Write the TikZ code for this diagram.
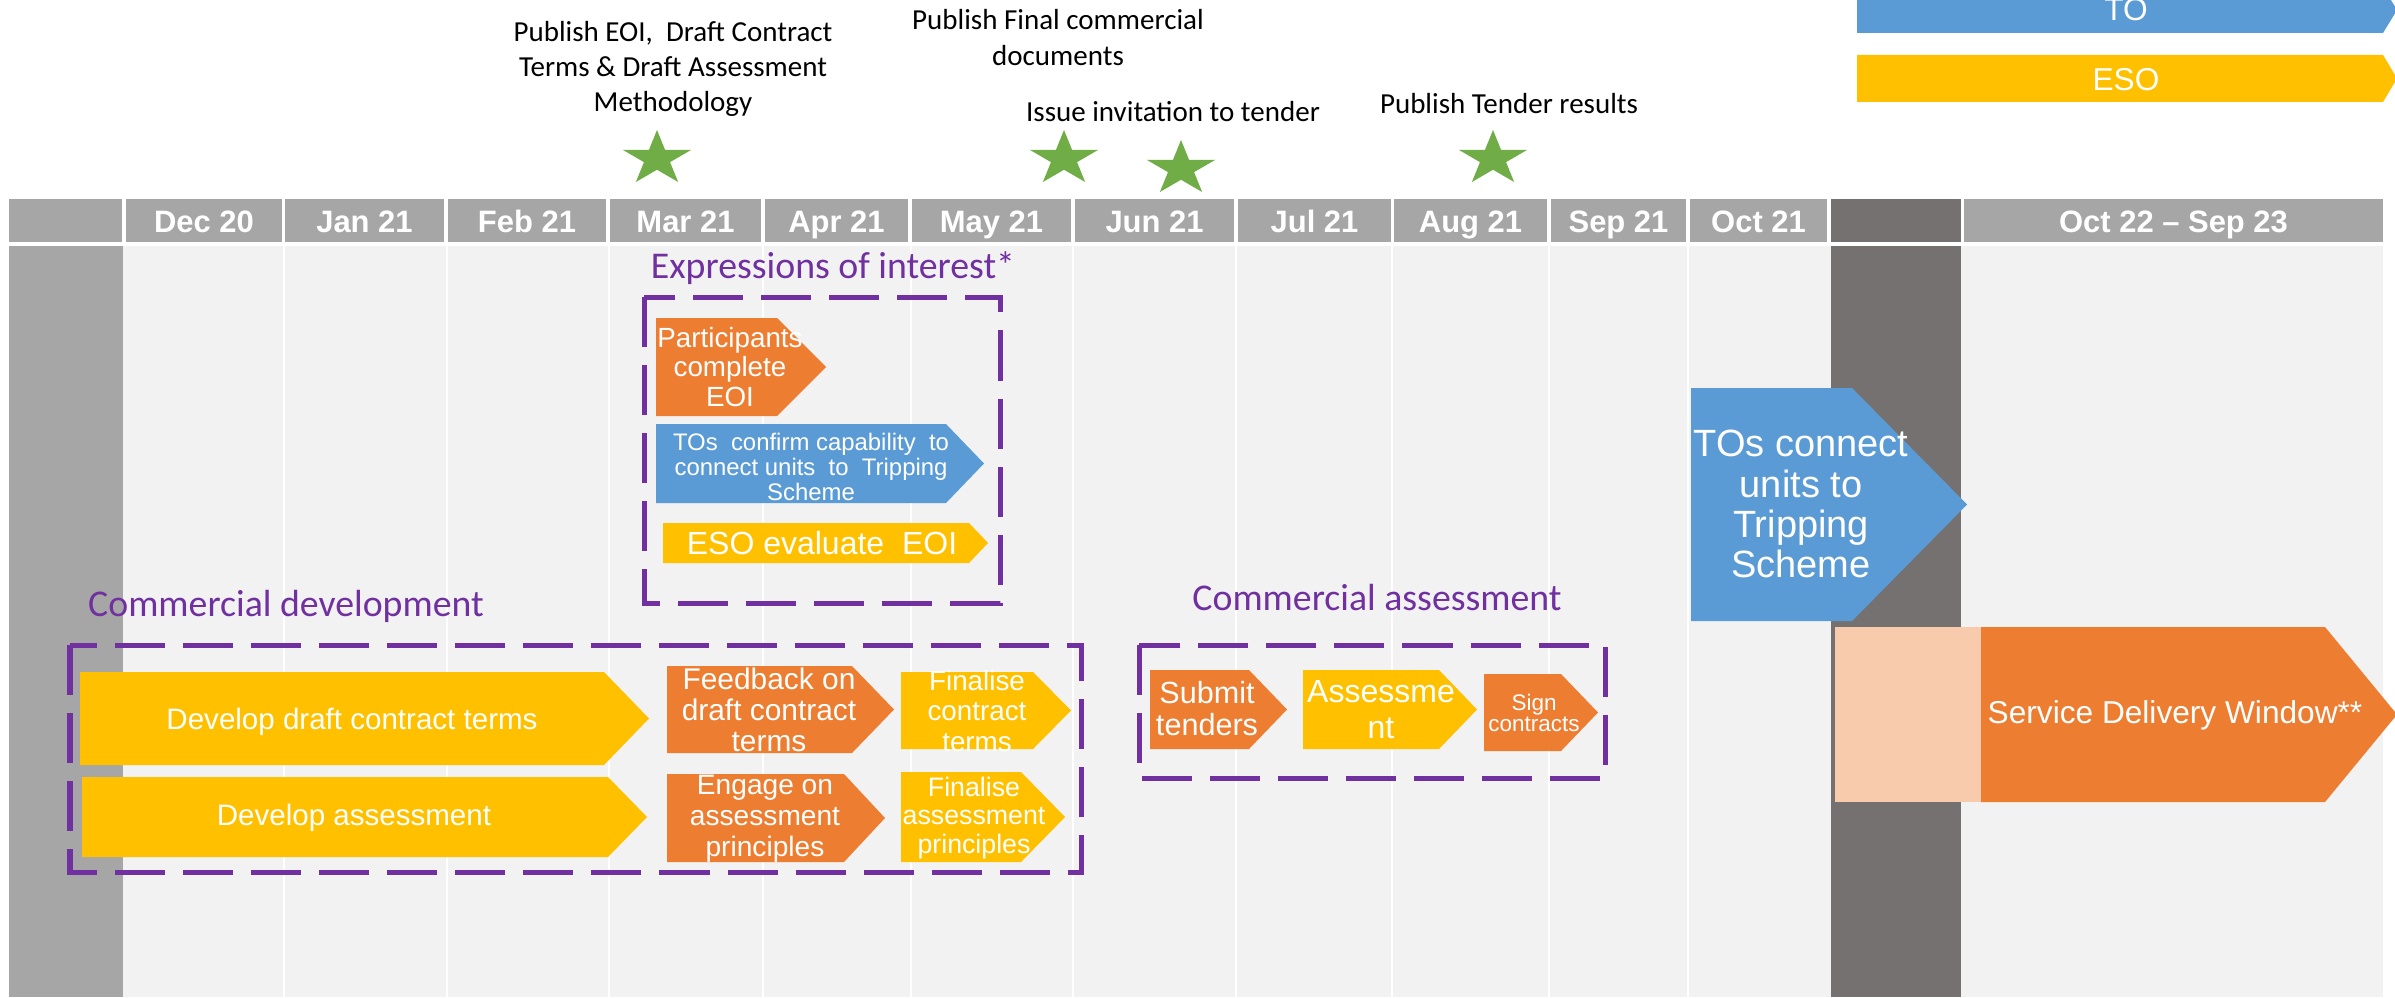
\documentclass[tikz,border=0pt]{standalone}
\usepackage{fontspec}
\setmainfont{Liberation Sans}
\newfontfamily\calfont{Carlito}
\usetikzlibrary{calc}
\definecolor{cOr}{HTML}{ED7D31}
\definecolor{cBl}{HTML}{5B9BD5}
\definecolor{cYe}{HTML}{FFC000}
\definecolor{cPu}{HTML}{7030A0}
\definecolor{cGr}{HTML}{70AD47}
\definecolor{cPe}{HTML}{F8CBAD}
\definecolor{cDk}{HTML}{767171}
\definecolor{cHd}{HTML}{A6A6A6}
\definecolor{cBg}{HTML}{F2F2F2}
\newcommand\chev[6]{\fill[#6] (#1,#2) -- (#3,#2) -- (#4,{(#2+#5)/2}) -- (#3,#5) -- (#1,#5) -- cycle;}
\newcommand\fsz[2]{\fontsize{#1}{#2}\selectfont}
\tikzset{
  hdr/.style={font=\bfseries\fsz{8.8}{10}, text=white, inner sep=0pt, anchor=base},
  atxt/.style={text=white, align=center, inner sep=0pt},
  lbl/.style={font=\calfont\fsz{8.25}{10}, align=center, inner sep=0pt, text=black},
  plbl/.style={font=\calfont\fsz{10.75}{12}, text=cPu, inner sep=0pt},
  dbox/.style={draw=cPu, line width=0.05cm, dash pattern=on 0.5cm off 0.18cm},
  gstar/.pic={\fill[cGr, xscale=1.25, yscale=-1] (90:28.75) -- (126:10.98) -- (162:28.75) -- (198:10.98) -- (234:28.75) -- (270:10.98) -- (306:28.75) -- (342:10.98) -- (18:28.75) -- (54:10.98) -- cycle;}
}
\begin{document}
\begin{tikzpicture}[x=0.01cm,y=-0.01cm]
\clip (0,0) rectangle (2395,997);
\fill[white] (0,0) rectangle (2395,997);
% body
\fill[cBg] (9,246) rectangle (2384,997);
\fill[cHd] (9,246) rectangle (123,997);
\foreach \x in {284,447,609,763,911,1073,1236,1392,1549,1688,2384}
  \draw[white, line width=0.02cm] (\x,246) -- (\x,997);
\fill[cDk] (1831,246) rectangle (1961,997);
% header
\foreach \a/\b/\t [count=\i] in {9/122/{},126/282/Dec 20,285/444/Jan 21,448/606/Feb 21,610/761/Mar 21,765/908/Apr 21,912/1071/May 21,1075/1234/Jun 21,1238/1391/Jul 21,1394/1547/Aug 21,1551/1686/Sep 21,1690/1827/Oct 21,1964/2383/Oct 22 \textendash{} Sep 23}
{
  \fill[cHd] (\a,199) rectangle (\b,242);
  \node[hdr] (hd\i) at ({(\a+\b)/2},232) {\t};
}
\fill[cDk] (1831,199) rectangle (1961,242);
% legend
\chev{1857}{-13}{2383}{2397}{33}{cBl}
\node[atxt, font=\fsz{9}{10}] (legTO) at (2126,10) {TO};
\chev{1857}{55}{2383}{2397}{102}{cYe}
\node[atxt, font=\fsz{9}{10}] (legESO) at (2126,80) {ESO};
% milestones
\node[lbl] (m1) at (673,69) {Publish EOI,\ \ Draft Contract\\Terms \& Draft Assessment\\Methodology};
\node[lbl] (m2) at (1058,37.5) {Publish Final commercial\\documents};
\node[lbl] (m3) at (1173,112) {Issue invitation to tender};
\node[lbl] (m4) at (1509,104) {Publish Tender results};
\pic at (657,158.75) {gstar};
\pic at (1064,158.75) {gstar};
\pic at (1181,168.75) {gstar};
\pic at (1493,158.75) {gstar};
% group labels and boxes
\node[plbl] (eoil) at (833,268) {Expressions of interest*};
\node[plbl] (cdl) at (286,606) {Commercial development};
\node[plbl] (cal) at (1377,598) {Commercial assessment};
\draw[dbox] (644,297) rectangle (1000,603);
\draw[dbox] (70,645) rectangle (1081,872);
\draw[dbox] (1139,645) rectangle (1605,778);
% EOI activities
\chev{656}{318}{777}{826}{416}{cOr}
\node[atxt, font=\fsz{7.9}{8.5}] (a1) at (730,367) {Participants\\complete\\EOI};
\chev{656}{424}{946}{984}{503}{cBl}
\node[atxt, font=\fsz{6.8}{7.1}] (a2) at (811,467) {TOs\ \ confirm capability\ \ to\\connect units\ \ to\ \ Tripping\\Scheme};
\chev{663}{523}{969}{988}{563}{cYe}
\node[atxt, font=\fsz{9.1}{10}] (a3) at (822,543) {ESO evaluate\ \ EOI};
% commercial development
\chev{80}{672}{604}{649}{765}{cYe}
\node[atxt, font=\fsz{8.4}{10}] (a4) at (352,722) {Develop draft contract terms};
\chev{82}{777}{608}{647}{857}{cYe}
\node[atxt, font=\fsz{8.4}{10}] (a5) at (354,818) {Develop assessment};
\chev{667}{666}{852}{894}{753}{cOr}
\node[atxt, font=\fsz{8.5}{8.8}] (a6) at (769,710) {Feedback on\\draft contract\\terms};
\chev{901}{672}{1033}{1071}{749}{cYe}
\node[atxt, font=\fsz{7.9}{8.6}] (a7) at (977,711) {Finalise\\contract\\terms};
\chev{667}{774}{844}{885}{862}{cOr}
\node[atxt, font=\fsz{8}{8.8}] (a8) at (765,819) {Engage on\\assessment\\principles};
\chev{901}{772}{1021}{1065}{862}{cYe}
\node[atxt, font=\fsz{7.6}{8.1}] (a9) at (974,818) {Finalise\\assessment\\principles};
% commercial assessment
\chev{1150}{670}{1249}{1287}{749}{cOr}
\node[atxt, font=\fsz{8.7}{9.1}] (a10) at (1207,709) {Submit\\tenders};
\chev{1303}{670}{1439}{1477}{749}{cYe}
\node[atxt, font=\fsz{9.1}{10.2}] (a11) at (1381,710) {Assessme\\nt};
\chev{1484}{674}{1561}{1598}{751}{cOr}
\node[atxt, font=\fsz{6.4}{6.2}] (a12) at (1534,713) {Sign\\contracts};
% TO connection and delivery
\chev{1691}{388}{1852}{1967}{621}{cBl}
\node[atxt, font=\fsz{10.8}{11.4}] (a13) at (1801,504) {TOs connect\\units to\\Tripping\\Scheme};
\fill[cPe] (1835,627) rectangle (1981,802);
\chev{1981}{627}{2325}{2397}{802}{cOr}
\node[atxt, font=\fsz{9}{10}] (a14) at (2175,715) {Service Delivery Window**};
\end{tikzpicture}
\end{document}
